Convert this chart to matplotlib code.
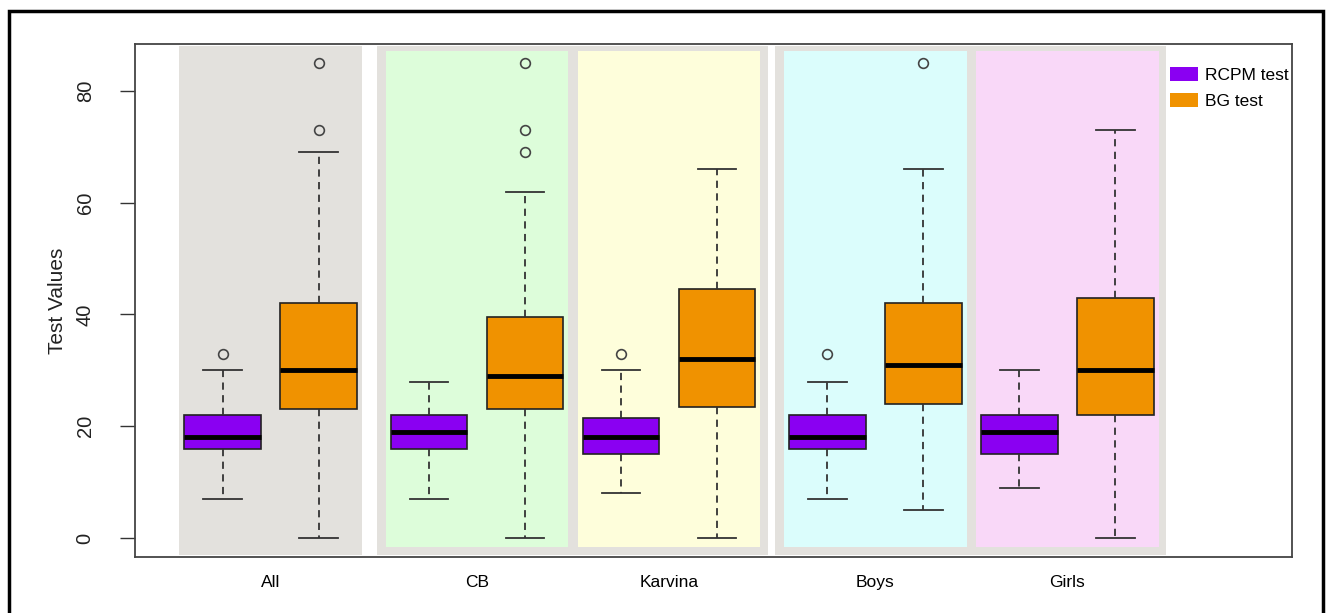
"""Boxplots of RCPM and BG test values by group, with shaded group panels."""
import matplotlib

matplotlib.use("Agg")
import matplotlib.pyplot as plt
from matplotlib.patches import Patch, Rectangle

plt.rcParams["font.family"] = ["Liberation Sans", "DejaVu Sans"]

# --- data --------------------------------------------------------------------
GROUPS = ["All", "CB", "Karvina", "Boys", "Girls"]

rcpm_lo = [7, 7, 8, 7, 9]
rcpm_q1 = [16, 16, 15, 16, 15]
rcpm_med = [18, 19, 18, 18, 19]
rcpm_q3 = [22, 22, 21.5, 22, 22]
rcpm_hi = [30, 28, 30, 28, 30]
rcpm_out = [[33], [], [33], [33], []]

bg_lo = [0, 0, 0, 5, 0]
bg_q1 = [23, 23, 23.5, 24, 22]
bg_med = [30, 29, 32, 31, 30]
bg_q3 = [42, 39.5, 44.5, 42, 43]
bg_hi = [69, 62, 66, 66, 73]
bg_out = [[73, 85], [69, 73, 85], [], [85], []]

# --- layout ------------------------------------------------------------------
RCPM_POS = [1, 3.15, 5.15, 7.3, 9.3]
BG_POS = [p + 1 for p in RCPM_POS]
PANEL_COLORS = ["#E3E1DD", "#DDFDDA", "#FEFEDB", "#DBFDFC", "#F9D8F8"]
FRAME_GREY = "#E3E1DD"
C_RCPM = "#8A00F2"
C_BG = "#F09200"


def _stats(lo, q1, med, q3, hi, out):
    return [dict(whislo=a, q1=b, med=c, q3=d, whishi=e, fliers=f)
            for a, b, c, d, e, f in zip(lo, q1, med, q3, hi, out)]


def _draw_boxes(ax, stats, pos, color):
    ax.bxp(stats, positions=pos, widths=0.8, patch_artist=True,
           boxprops=dict(facecolor=color, edgecolor="#222222", linewidth=1.2),
           medianprops=dict(color="black", linewidth=3.5, solid_capstyle="butt"),
           whiskerprops=dict(color="#333333", linewidth=1.3, linestyle=(0, (4, 3))),
           capprops=dict(color="#333333", linewidth=1.3),
           capwidths=0.4,
           flierprops=dict(marker="o", markerfacecolor="none",
                           markeredgecolor="#444444", markersize=7, markeredgewidth=1.2),
           zorder=3)


fig = plt.figure(figsize=(13.28, 6.13), dpi=100)
ax = fig.add_axes([135 / 1328, 1 - 557 / 613, (1292 - 135) / 1328, (557 - 44) / 613])

# outer figure frame
fig.add_artist(Rectangle((9 / 1328, -0.1), (1323 - 9) / 1328, 1.1 - 11 / 613,
                         transform=fig.transFigure, fill=False,
                         edgecolor="black", linewidth=2.5))

# group panels: grey frames, coloured inner panels
y_out, y_out_top = -3.0, 88.0
y_in, y_in_top = -1.6, 87.1
pad = 0.45
frames = [(0, 0), (1, 2), (3, 4)]
for a, b in frames:
    x0 = RCPM_POS[a] - pad - (0 if a == 0 else 0.09)
    x1 = BG_POS[b] + pad + (0 if a == 0 else 0.08)
    ax.add_patch(Rectangle((x0, y_out), x1 - x0, y_out_top - y_out,
                           facecolor=FRAME_GREY, edgecolor="none", zorder=0))
for i in range(1, len(GROUPS)):
    x0 = RCPM_POS[i] - pad
    x1 = BG_POS[i] + pad
    ax.add_patch(Rectangle((x0, y_in), x1 - x0, y_in_top - y_in,
                           facecolor=PANEL_COLORS[i], edgecolor="none", zorder=1))

_draw_boxes(ax, _stats(rcpm_lo, rcpm_q1, rcpm_med, rcpm_q3, rcpm_hi, rcpm_out),
            RCPM_POS, C_RCPM)
_draw_boxes(ax, _stats(bg_lo, bg_q1, bg_med, bg_q3, bg_hi, bg_out), BG_POS, C_BG)

ax.set_xlim(1 - 87.5 / 96, 1 + (1292 - 222.5) / 96)
ax.set_ylim(-3.4, 88.4)
ax.set_yticks([0, 20, 40, 60, 80])
ax.set_yticklabels(["0", "20", "40", "60", "80"], rotation=90, va="center",
                   fontsize=14.5, color="#222222")
ax.tick_params(axis="y", length=11, width=1, color="#333333", pad=18)
ax.set_xticks([(r + b) / 2 for r, b in zip(RCPM_POS, BG_POS)])
ax.set_xticklabels(GROUPS, fontsize=12.5)
ax.tick_params(axis="x", length=0, pad=13)
ax.set_ylabel("Test Values", fontsize=15, labelpad=6, color="#222222")
for s in ax.spines.values():
    s.set_color("#444444")
    s.set_linewidth(1.3)

handles = [Patch(facecolor=C_RCPM, edgecolor="none", label="RCPM test"),
           Patch(facecolor=C_BG, edgecolor="none", label="BG test")]
ax.legend(handles=handles, loc="upper right", bbox_to_anchor=(1.006, 0.975),
          frameon=False, fontsize=12.5, handlelength=1.6, handleheight=0.8,
          handletextpad=0.4, labelspacing=0.6, borderaxespad=0.2)

fig.savefig("out.png", dpi=100)
